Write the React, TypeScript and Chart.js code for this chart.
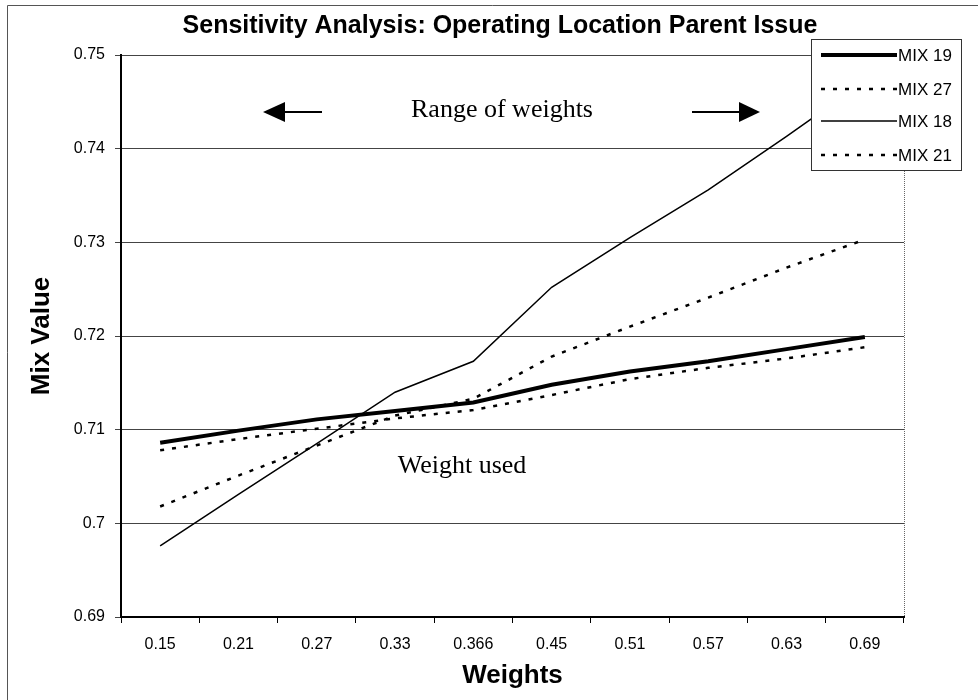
import React, { useEffect, useRef } from "react";
import { Chart, registerables } from "chart.js";

Chart.register(...registerables);

const categories = ["0.15", "0.21", "0.27", "0.33", "0.366", "0.45", "0.51", "0.57", "0.63", "0.69"];
const mix19 = [0.7086, 0.7099, 0.7111, 0.712, 0.7129, 0.7148, 0.7162, 0.7173, 0.7186, 0.7199];
const mix27 = [0.7018, 0.7051, 0.7083, 0.7115, 0.7133, 0.7178, 0.721, 0.7241, 0.7273, 0.7303];
const mix18 = [0.6976, 0.7031, 0.7085, 0.714, 0.7173, 0.7252, 0.7305, 0.7356, 0.7413, 0.7472];
const mix21 = [0.7078, 0.709, 0.7101, 0.7112, 0.7121, 0.7137, 0.7154, 0.7166, 0.7176, 0.7188];
const seriesNames = ["MIX 19", "MIX 27", "MIX 18", "MIX 21"];
const yMin = 0.69;
const yMax = 0.75;
const yStep = 0.01;

const titleText = "Sensitivity Analysis: Operating Location Parent Issue";
const yTitle = "Mix Value";
const xTitle = "Weights";
const rangeNote = "Range of weights";
const usedNote = "Weight used";

const SANS = '"Liberation Sans", Arial, sans-serif';
const SERIF = '"Liberation Serif", "Times New Roman", serif';

const decorPlugin = {
  id: "decor",
  afterDraw(chart: any) {
    const ctx = chart.ctx;
    const area = chart.chartArea;
    ctx.save();
    // outer frame
    ctx.strokeStyle = "#555";
    ctx.lineWidth = 1;
    ctx.beginPath();
    ctx.moveTo(7.5, 700);
    ctx.lineTo(7.5, 5.5);
    ctx.lineTo(978, 5.5);
    ctx.stroke();
    // right plot border
    ctx.strokeStyle = "#666";
    ctx.setLineDash([1, 1]);
    ctx.beginPath();
    ctx.moveTo(Math.round(area.right) + 0.5, area.top);
    ctx.lineTo(Math.round(area.right) + 0.5, area.bottom);
    ctx.stroke();
    ctx.setLineDash([]);

    // title
    ctx.fillStyle = "#000";
    ctx.font = `bold 25px ${SANS}`;
    ctx.textAlign = "center";
    ctx.textBaseline = "alphabetic";
    ctx.fillText(titleText, 500, 33);

    // axis titles
    ctx.font = `bold 26px ${SANS}`;
    ctx.textBaseline = "middle";
    ctx.fillText(xTitle, (area.left + area.right) / 2, 676);
    ctx.save();
    ctx.translate(42, (area.top + area.bottom) / 2);
    ctx.rotate(-Math.PI / 2);
    ctx.fillText(yTitle, 0, 0);
    ctx.restore();

    // notes
    ctx.font = `26px ${SERIF}`;
    ctx.textBaseline = "alphabetic";
    ctx.fillText(rangeNote, 502, 117);
    ctx.fillText(usedNote, 462, 473);

    // arrows
    const ay = 112;
    ctx.lineWidth = 2;
    ctx.strokeStyle = "#000";
    ctx.beginPath();
    ctx.moveTo(283, ay);
    ctx.lineTo(322, ay);
    ctx.moveTo(692, ay);
    ctx.lineTo(742, ay);
    ctx.stroke();
    ctx.beginPath();
    ctx.moveTo(263, ay);
    ctx.lineTo(285, ay - 10);
    ctx.lineTo(285, ay + 10);
    ctx.closePath();
    ctx.fill();
    ctx.beginPath();
    ctx.moveTo(760, ay);
    ctx.lineTo(739, ay - 10);
    ctx.lineTo(739, ay + 10);
    ctx.closePath();
    ctx.fill();

    // legend
    const lx = 811, ly = 39, lw = 150, lh = 131;
    ctx.fillStyle = "#fff";
    ctx.fillRect(lx, ly, lw, lh);
    ctx.strokeStyle = "#333";
    ctx.lineWidth = 1;
    ctx.strokeRect(lx + 0.5, ly + 0.5, lw, lh);
    const rows = [55, 89, 121, 155];
    chart.data.datasets.forEach((ds: any, i: number) => {
      const y = rows[i];
      ctx.strokeStyle = "#000";
      ctx.lineWidth = ds.borderWidth;
      ctx.setLineDash(ds.borderDash || []);
      ctx.lineCap = "butt";
      ctx.beginPath();
      ctx.moveTo(821, y);
      ctx.lineTo(897, y);
      ctx.stroke();
      ctx.setLineDash([]);
      ctx.fillStyle = "#000";
      ctx.font = `17px ${SANS}`;
      ctx.textAlign = "left";
      ctx.textBaseline = "middle";
      ctx.fillText(ds.label, 898, y + 1);
    });
    ctx.restore();
  },
};

export default function App() {
  const ref = useRef<HTMLCanvasElement | null>(null);
  useEffect(() => {
    if (!ref.current) return;
    const chart = new Chart(ref.current, {
      type: "line",
      data: {
        labels: categories,
        datasets: [
          { label: seriesNames[0], data: mix19, borderColor: "#000", borderWidth: 4, pointRadius: 0, tension: 0, fill: false },
          { label: seriesNames[1], data: mix27, borderColor: "#000", borderWidth: 2.5, borderDash: [4, 8], pointRadius: 0, tension: 0, fill: false },
          { label: seriesNames[2], data: mix18, borderColor: "#000", borderWidth: 1.5, pointRadius: 0, tension: 0, fill: false },
          { label: seriesNames[3], data: mix21, borderColor: "#000", borderWidth: 2.5, borderDash: [4, 8], pointRadius: 0, tension: 0, fill: false },
        ],
      },
      options: {
        animation: false,
        responsive: false,
        devicePixelRatio: 1,
        layout: { padding: { left: 0, top: 55, right: 74, bottom: 0 } },
        plugins: {
          legend: { display: false },
          title: { display: false },
          tooltip: { enabled: false },
        },
        scales: {
          x: {
            type: "category",
            offset: true,
            grid: { display: true, drawOnChartArea: false, offset: true, tickLength: 6, color: "#000", lineWidth: 1 },
            border: { display: true, color: "#000", width: 2 },
            ticks: { color: "#000", font: { family: SANS, size: 16 }, padding: 12, maxRotation: 0, autoSkip: false },
            afterFit: (scale: any) => {
              scale.height = 83;
            },
          },
          y: {
            min: yMin,
            max: yMax,
            grid: { color: "#444", lineWidth: 1, tickLength: 6, drawTicks: true },
            border: { display: true, color: "#000", width: 2 },
            ticks: {
              stepSize: yStep,
              color: "#000",
              font: { family: SANS, size: 16 },
              padding: 10,
              callback: (v: any) => String(parseFloat(Number(v).toFixed(2))),
            },
            afterFit: (scale: any) => {
              scale.width = 121;
            },
          },
        },
      },
      plugins: [decorPlugin],
    } as any);
    return () => chart.destroy();
  }, []);
  return (
    <div style={{ position: "fixed", left: 0, top: 0, width: 978, height: 700, background: "#fff" }}>
      <canvas ref={ref} width={978} height={700} />
    </div>
  );
}
